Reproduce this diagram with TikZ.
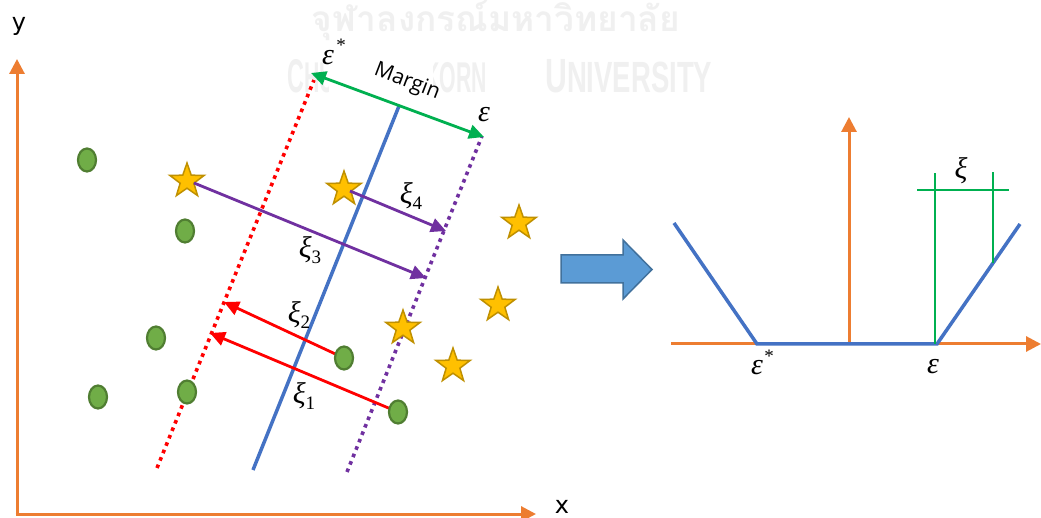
\documentclass[tikz,border=0pt]{standalone}
\usepackage{fontspec}
\usepackage{graphicx}
\usetikzlibrary{arrows.meta,shapes.geometric}
\newfontfamily\thaifont[Script=Thai]{Loma}
\newfontfamily\axfont{DejaVu Sans}
\newfontfamily\lblfont{Open Sans}
\newfontfamily\wmfont{Liberation Sans}
\newfontfamily\tnr{Liberation Serif}
\definecolor{orangeC}{HTML}{ED7D31}
\definecolor{blueL}{HTML}{4472C4}
\definecolor{redL}{HTML}{FF0000}
\definecolor{purpleL}{HTML}{7030A0}
\definecolor{greenL}{HTML}{00B050}
\definecolor{starF}{HTML}{FFC000}
\definecolor{starB}{HTML}{BF9000}
\definecolor{cirF}{HTML}{70AD47}
\definecolor{cirB}{HTML}{507E32}
\definecolor{barF}{HTML}{5B9BD5}
\definecolor{barB}{HTML}{41719C}
\definecolor{wmC}{HTML}{F0F0F0}
\newcommand{\xisub}[1]{{\itshape ξ}\raisebox{-6.5pt}{\fontsize{19}{20}\selectfont #1}}
\tikzset{
  axisline/.style={draw=orangeC, line width=3pt, -{Triangle[length=15pt,width=15pt]}},
  dotline/.style={line width=3.6pt, dash pattern=on 3.6pt off 4.4pt},
  hyper/.style={draw=blueL, line width=3.5pt},
  slackarrow/.style={line width=2.8pt, -{Triangle[length=15pt,width=14pt]}},
  marginarrow/.style={draw=greenL, line width=2.8pt, {Triangle[length=15pt,width=14pt]}-{Triangle[length=15pt,width=14pt]}},
  dotpt/.style={ellipse, draw=cirB, fill=cirF, line width=2.2pt, minimum width=18pt, minimum height=23pt, inner sep=0pt},
  starpt/.style={star, star points=5, star point ratio=2.5, draw=starB, fill=starF, line width=1.5pt, minimum size=36pt, inner sep=0pt},
  xilbl/.style={inner sep=0pt, font=\tnr\fontsize{30}{32}\selectfont},
  epslbl/.style={inner sep=0pt, font=\tnr\itshape\fontsize{30}{32}\selectfont},
  astlbl/.style={inner sep=0pt, font=\tnr\fontsize{19}{20}\selectfont},
  axlbl/.style={inner sep=0pt, font=\axfont\fontsize{24}{26}\selectfont},
  wm/.style={inner sep=0pt, text=wmC},
  blockarrow/.style={draw=barB, fill=barF, line width=1.5pt, line join=miter},
  lossline/.style={draw=blueL, line width=3.5pt, line join=miter},
  slackmark/.style={draw=greenL, line width=2.5pt}
}
\begin{document}
\begin{tikzpicture}[x=1pt,y=-1pt]
\useasboundingbox (0,0) rectangle (1041,518);
\fill[white] (0,0) rectangle (1041,518);

% watermark
\node[wm] (wmthai) at (496,21) {\resizebox{368pt}{!}{\thaifont\bfseries จุฬาลงกรณ์มหาวิทยาลัย}};
\node[wm, anchor=south west] (wmlatinA) at (287,93) {\resizebox{200pt}{33pt}{\wmfont\bfseries C\fontsize{9.1}{10}\selectfont HULALONGKORN}};
\node[wm, anchor=south west] (wmlatinB) at (545,93) {\resizebox{167pt}{33pt}{\wmfont\bfseries U\fontsize{9.1}{10}\selectfont NIVERSITY}};
\fill[white] (329,45) rectangle (433,104);

% left axes
\coordinate (O) at (17,514);
\coordinate (Ytip) at (17,59);
\coordinate (Xtip) at (536,514);
\draw[axisline] (O) -- (Ytip);
\draw[axisline] ([xshift=-1.5pt]O) -- (Xtip);
\node[axlbl] (ylab) at (19,26) {y};
\node[axlbl] (xlab) at (562,507) {x};

% boundary lines
\coordinate (rT) at (314,80);  \coordinate (rB) at (157,468);
\coordinate (bT) at (399,106); \coordinate (bB) at (253,470);
\coordinate (pT) at (482,136); \coordinate (pB) at (347,472);
\draw[dotline, draw=redL] (rB) -- (rT);
\draw[dotline, draw=purpleL] (pB) -- (pT);
\draw[hyper] (bB) -- (bT);

% margin
\coordinate (mL) at (311,73);
\coordinate (mR) at (484,137);
\draw[marginarrow] (mR) -- (mL);
\node[inner sep=0pt, rotate=-21, font=\lblfont\fontsize{21}{23}\selectfont] (marginlbl) at (407,82) {Margin};
\node[epslbl] (epsS) at (328,58) {ε};
\node[astlbl] (epsSast) at (341,45) {*};
\node[epslbl] (epsT) at (484,115) {ε};

% red slack arrows (below circles)
\coordinate (c6c) at (344,358);
\coordinate (c7c) at (398,412);
\coordinate (r2tip) at (224,302);
\coordinate (r1tip) at (210,333);
\draw[slackarrow, draw=redL, fill=redL] (c6c) -- (r2tip);
\draw[slackarrow, draw=redL, fill=redL] (c7c) -- (r1tip);

% circles
\node[dotpt] (c1) at (87,160) {};
\node[dotpt] (c2) at (185,231) {};
\node[dotpt] (c3) at (156,338) {};
\node[dotpt] (c4) at (98,397) {};
\node[dotpt] (c5) at (187,392) {};
\node[dotpt] (c6) at (c6c) {};
\node[dotpt] (c7) at (c7c) {};

% stars
\node[starpt] (s1) at (187,181) {};
\node[starpt] (s2) at (344,189) {};
\node[starpt] (s3) at (519,223) {};
\node[starpt] (s4) at (498,305) {};
\node[starpt] (s5) at (403,328) {};
\node[starpt] (s6) at (453,366) {};

% purple slack arrows
\coordinate (p3tip) at (426,278);
\coordinate (p4tip) at (446,231);
\draw[slackarrow, draw=purpleL, fill=purpleL] ([shift={(7,2)}]s1.center) -- (p3tip);
\draw[slackarrow, draw=purpleL, fill=purpleL] ([shift={(6,2)}]s2.center) -- (p4tip);

% slack labels
\node[xilbl] (xi3) at (310,250) {\xisub{3}};
\node[xilbl] (xi4) at (411,196) {\xisub{4}};
\node[xilbl] (xi2) at (299,315) {\xisub{2}};
\node[xilbl] (xi1) at (304,396) {\xisub{1}};

% block arrow
\draw[blockarrow] (561,255) -- (623,255) -- (623,240) -- (652,269.5) -- (623,299) -- (623,283) -- (561,283) -- cycle;

% right graph
\coordinate (hL) at (671,344);
\coordinate (hR) at (1041,344);
\coordinate (vB) at (849,344);
\coordinate (vT) at (849,117);
\draw[axisline] (hL) -- (hR);
\draw[axisline] (vB) -- (vT);
\coordinate (f1) at (674,223);
\coordinate (f2) at (757,344);
\coordinate (f3) at (937,344);
\coordinate (f4) at (1020,224);
\draw[lossline] (f1) -- (f2) -- (f3) -- (f4);
\coordinate (g1b) at (935,344);
\coordinate (g1t) at (935,173);
\coordinate (g2b) at (993,263);
\coordinate (g2t) at (993,172);
\coordinate (ghl) at (917,190);
\coordinate (ghr) at (1009,190);
\draw[slackmark] (g1b) -- (g1t);
\draw[slackmark] (g2b) -- (g2t);
\draw[slackmark] (ghl) -- (ghr);
\node[xilbl] (xiR) at (961,171) {\itshape ξ};
\node[epslbl] (epsR1) at (757,368) {ε};
\node[astlbl] (epsR1ast) at (769,356) {*};
\node[epslbl] (epsR2) at (933,367) {ε};
\end{tikzpicture}
\end{document}
